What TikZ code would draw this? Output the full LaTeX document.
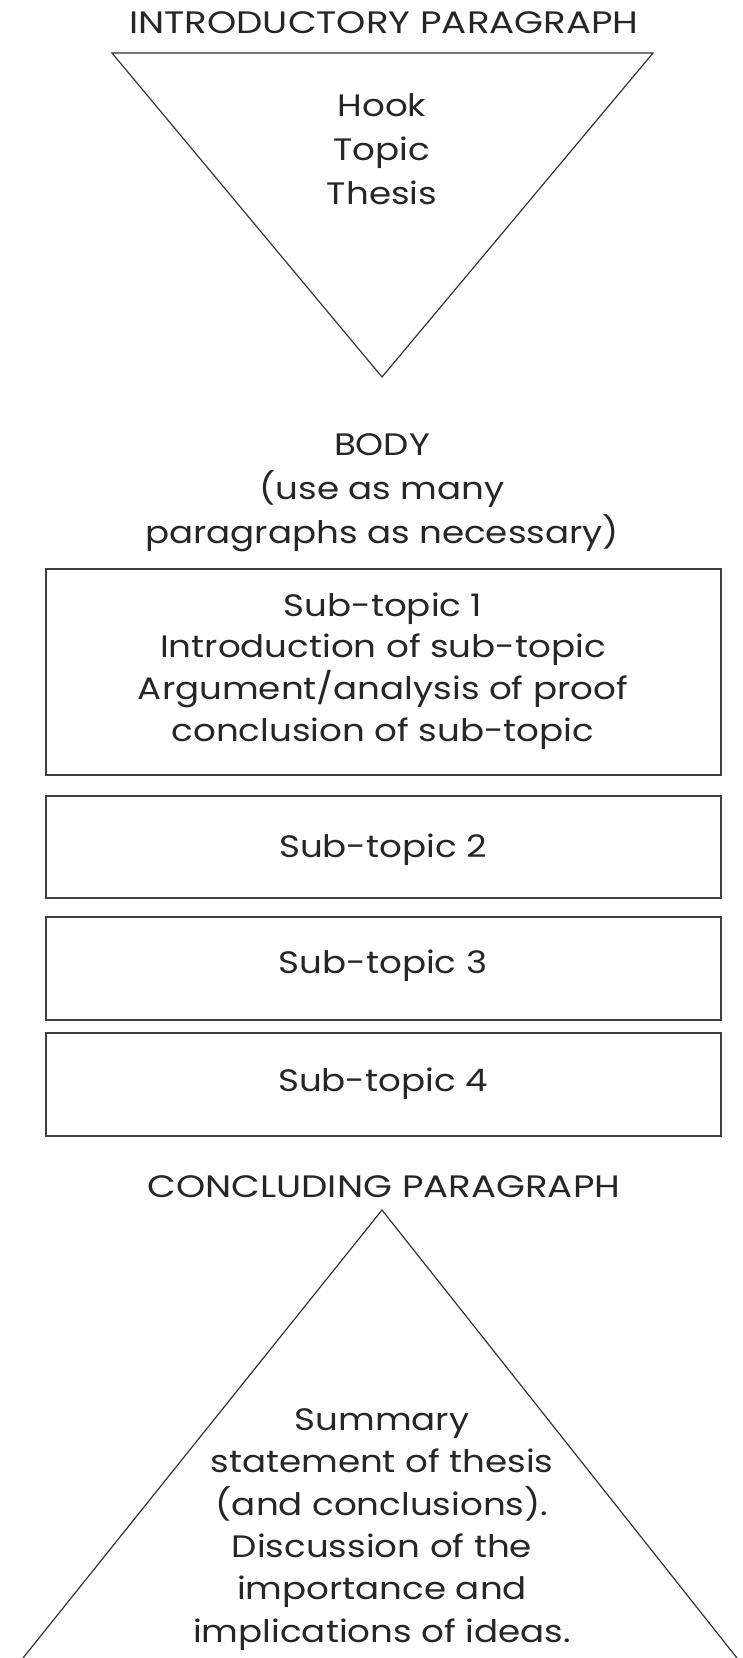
\documentclass[tikz,border=0pt]{standalone}
\usepackage{fontspec}
\setmainfont[FakeStretch=1.15]{Poppins}
\begin{document}
\begin{tikzpicture}[x=1pt,y=-1pt,
  lbl/.style={inner sep=0pt,align=center,text=black!85,font=\fontsize{31}{44}\selectfont},
  headlbl/.style={lbl,font=\fontsize{31}{44}\selectfont\addfontfeature{FakeStretch=1.2}},
  tri/.style={draw=black!80,line width=1.2pt,line join=miter},
  sbox/.style={draw=black!75,line width=1.6pt}]
\useasboundingbox (0,0) rectangle (742,1658);
% top
\node[headlbl] (intro) at (384,23) {INTRODUCTORY PARAGRAPH};
\coordinate (t1) at (112,53);
\coordinate (t2) at (653,53);
\coordinate (t3) at (382,377);
\draw[tri] (t1) -- (t2) -- (t3) -- cycle;
\node[lbl,anchor=base] (hook) at (382,204) {Hook\\Topic\\Thesis};
% body
\node[lbl,anchor=base] (body) at (382,543) {BODY\\(use as many\\paragraphs as necessary)};
\draw[sbox] (46,569) rectangle (721,775);
\node[lbl,anchor=base,font=\fontsize{31}{41.6}\selectfont] (s1) at (383,741) {Sub-topic 1\\Introduction of sub-topic\\Argument/analysis of proof\\conclusion of sub-topic};
\draw[sbox] (46,796) rectangle (721,898);
\node[lbl] (s2) at (383,850) {Sub-topic 2};
\draw[sbox] (46,917) rectangle (721,1020);
\node[lbl] (s3) at (383,966) {Sub-topic 3};
\draw[sbox] (46,1033) rectangle (721,1136);
\node[lbl] (s4) at (383,1084) {Sub-topic 4};
% bottom
\node[headlbl] (concl) at (384,1187) {CONCLUDING PARAGRAPH};
\coordinate (b1) at (382,1210);
\coordinate (b2) at (23,1658);
\coordinate (b3) at (737,1658);
\draw[tri] (b2) -- (b1) -- (b3);
\node[lbl,anchor=base,font=\fontsize{31}{42.3}\selectfont] (summ) at (382,1642) {Summary\\statement of thesis\\(and conclusions).\\Discussion of the\\importance and\\implications of ideas.};
\end{tikzpicture}
\end{document}
